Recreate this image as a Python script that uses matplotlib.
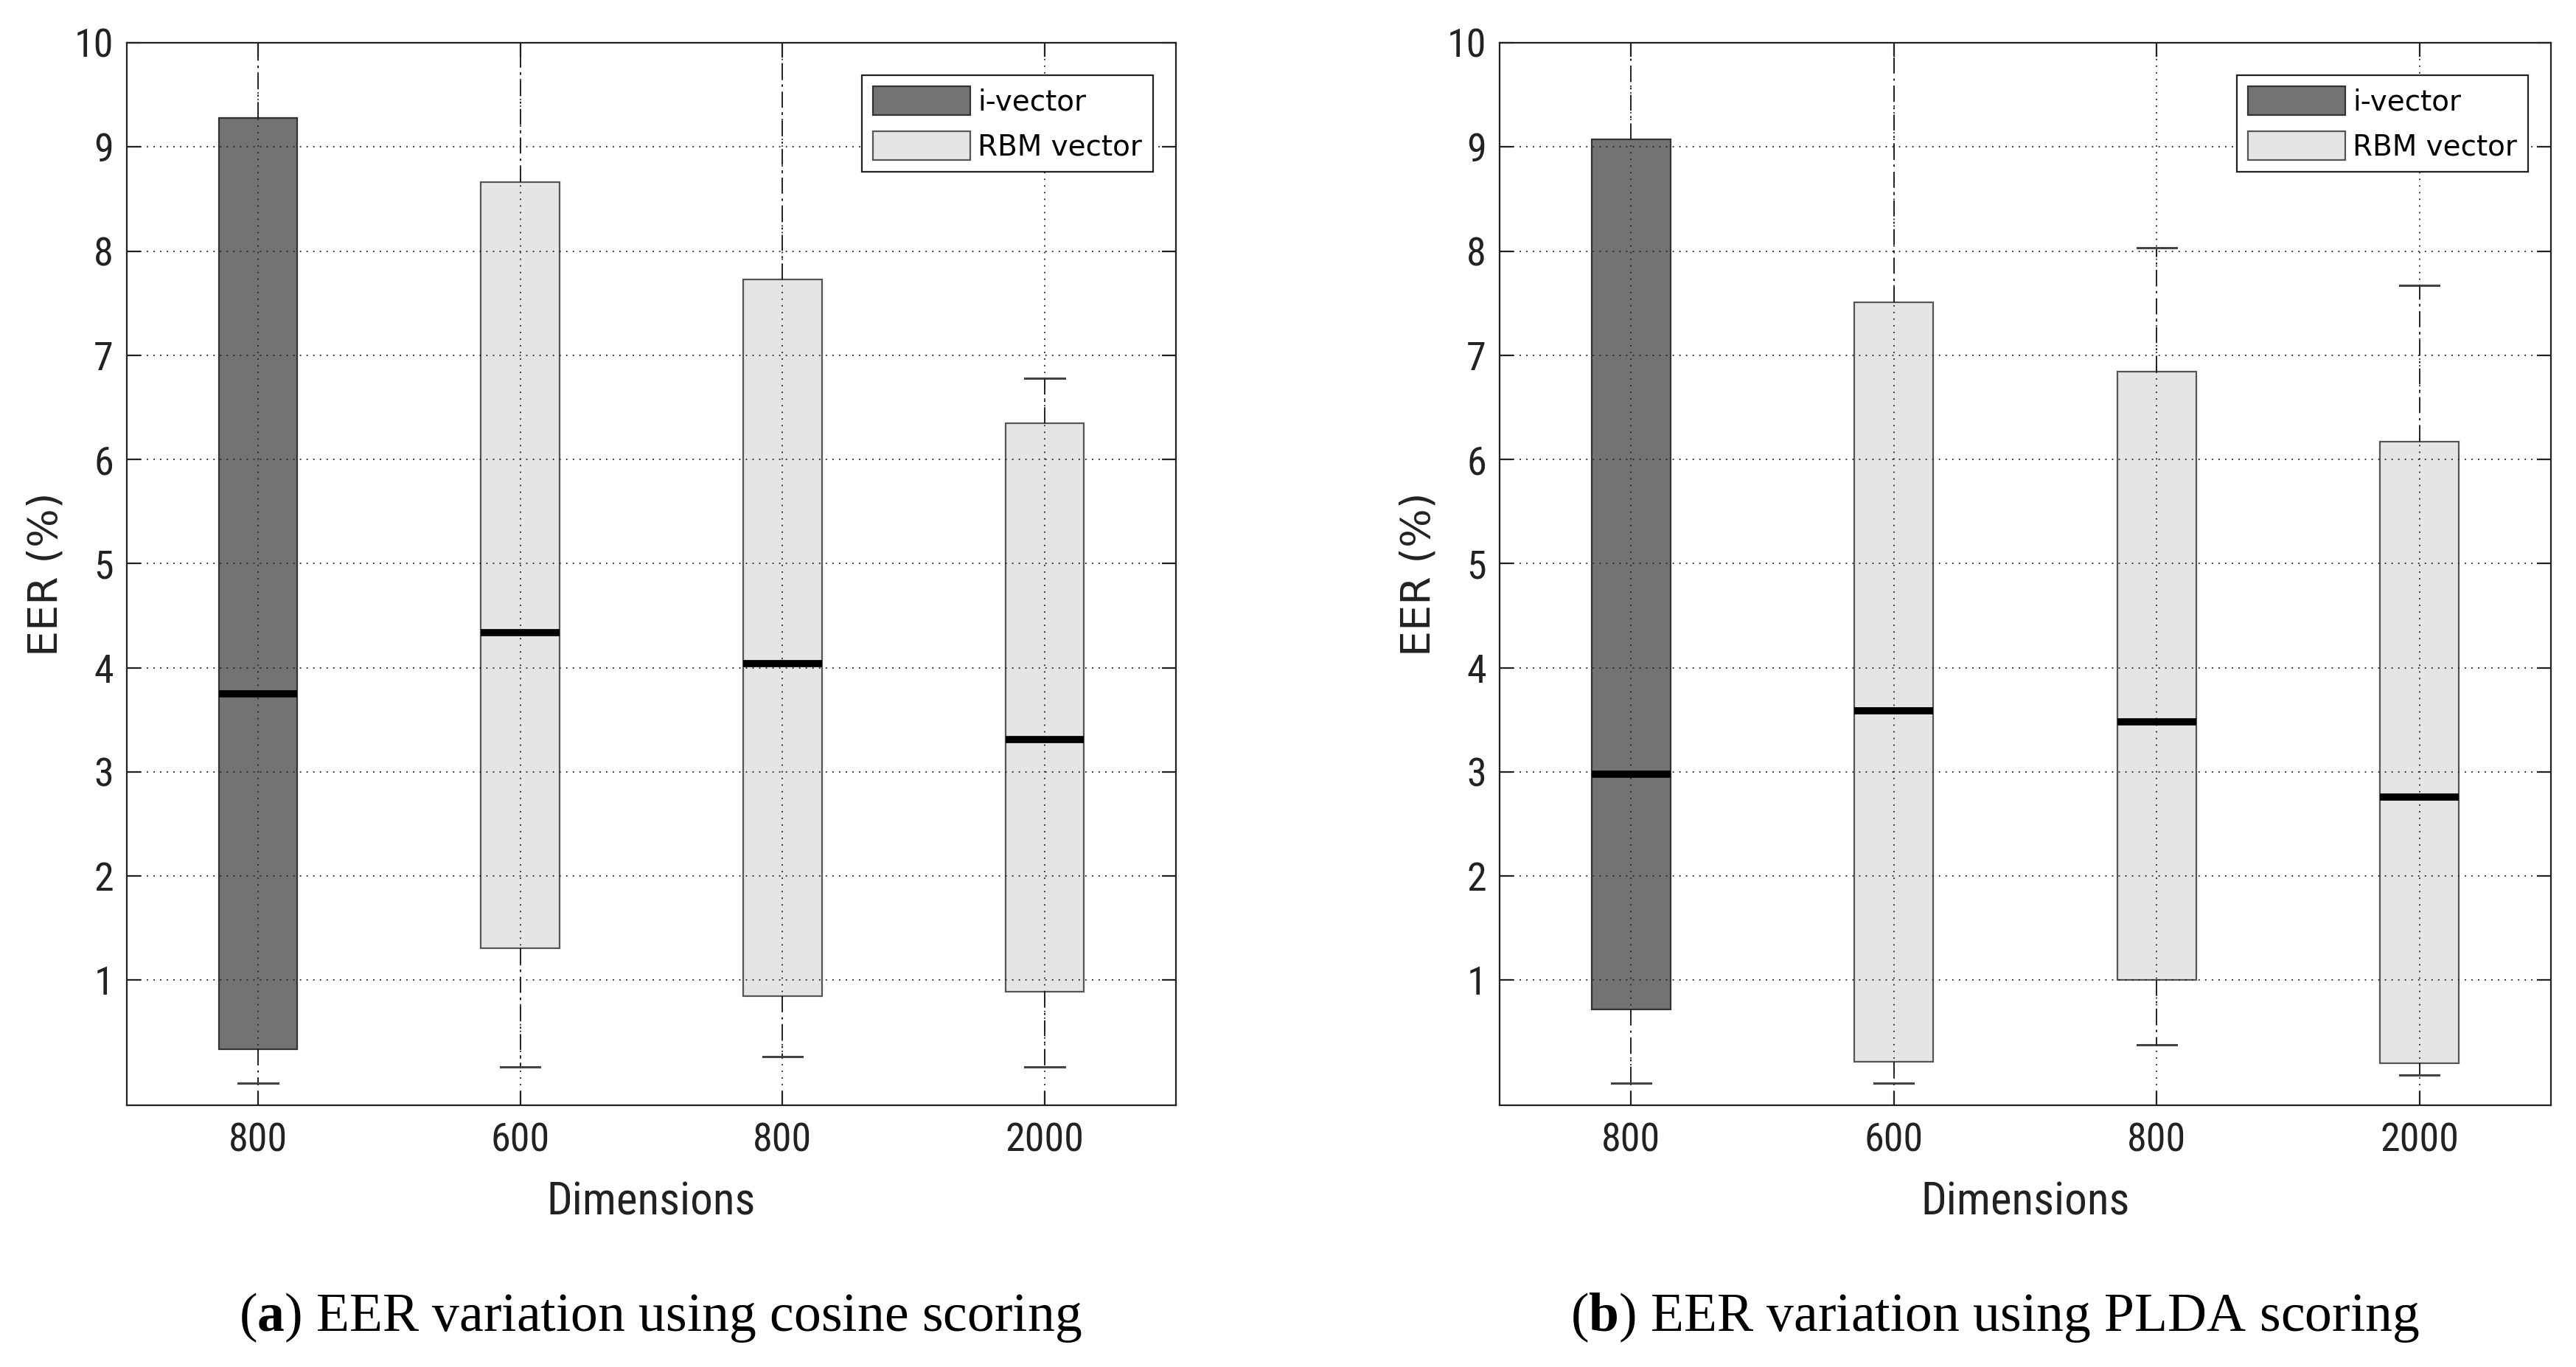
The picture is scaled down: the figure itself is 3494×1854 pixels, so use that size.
import matplotlib
matplotlib.use("Agg")
import matplotlib.pyplot as plt
from matplotlib.patches import Patch
from matplotlib import font_manager

plt.rcParams['mathtext.fontset'] = 'custom'
plt.rcParams['mathtext.rm'] = 'Liberation Serif'
plt.rcParams['mathtext.bf'] = 'Liberation Serif:bold'

# data (EER %, whiskers above 10 run off the axes)
dims = ['800', '600', '800', '2000']
kinds = ['i-vector', 'RBM vector', 'RBM vector', 'RBM vector']

cos_q1 = [0.34, 1.31, 0.85, 0.89]
cos_med = [3.75, 4.34, 4.04, 3.31]
cos_q3 = [9.28, 8.66, 7.73, 6.35]
cos_lo = [0.01, 0.17, 0.27, 0.17]
cos_hi = [11.0, 11.0, 11.0, 6.78]

plda_q1 = [0.72, 0.22, 1.00, 0.20]
plda_med = [2.98, 3.59, 3.48, 2.76]
plda_q3 = [9.07, 7.51, 6.84, 6.17]
plda_lo = [0.01, 0.01, 0.38, 0.09]
plda_hi = [11.0, 11.0, 8.03, 7.67]

yticks = [1, 2, 3, 4, 5, 6, 7, 8, 9, 10]
captions = [r'($\mathbf{a}$) EER variation using cosine scoring',
            r'($\mathbf{b}$) EER variation using PLDA scoring']

fill = {'i-vector': '#737373', 'RBM vector': '#e5e5e5'}
edge = {'i-vector': '#333333', 'RBM vector': '#555555'}

# pick a condensed sans if one is around
names = set(f.name for f in font_manager.fontManager.ttflist)
narrow = {'family': 'DejaVu Sans'}
for n in ['DejaVu Sans Condensed', 'Liberation Sans Narrow', 'Roboto Condensed']:
    if n in names:
        narrow = {'family': n}
        break

W, H = 3494, 1854
fig = plt.figure(figsize=(W / 100, H / 100), dpi=100)
ax1 = fig.add_axes([172 / W, 1 - 1499 / H, 1423 / W, 1441 / H])
ax2 = fig.add_axes([2034 / W, 1 - 1499 / H, 1426 / W, 1441 / H])


def draw(ax, q1, med, q3, lo, hi):
    stats = []
    for i in range(len(dims)):
        stats.append({'q1': q1[i], 'med': med[i], 'q3': q3[i],
                      'whislo': lo[i], 'whishi': hi[i], 'label': dims[i]})
    pos = list(range(1, len(dims) + 1))
    bp = ax.bxp(stats, positions=pos, widths=0.3, capwidths=0.15,
                patch_artist=True, showfliers=False,
                whiskerprops=dict(color='#111111', linewidth=1.3,
                                  linestyle=(0, (12, 4, 1.5, 4))),
                capprops=dict(color='#444444', linewidth=2.2),
                medianprops=dict(color='black', linewidth=7, zorder=4,
                                 solid_capstyle='butt'))
    for b, k in zip(bp['boxes'], kinds):
        b.set_facecolor(fill[k])
        b.set_edgecolor(edge[k])
        b.set_linewidth(1.6)
        b.set_zorder(2)

    ax.set_xlim(0.5, 4.5)
    ax.set_ylim(-0.2, 10)
    ax.set_yticks(yticks)
    ax.set_xticks(pos)
    ax.set_xticklabels(dims)
    ax.set_axisbelow(False)
    ax.grid(True, color='#222222', linestyle=(0, (1, 4)), linewidth=1.3)
    for s in ax.spines.values():
        s.set_linewidth(1.6)
        s.set_color('#222222')
    ax.tick_params(direction='in', length=13.5, width=1.6, color='#222222',
                   top=True, right=True, labelcolor='#222222')
    ax.tick_params(axis='x', pad=16)
    ax.tick_params(axis='y', pad=13)
    for t in ax.get_xticklabels() + ax.get_yticklabels():
        t.set_fontproperties(font_manager.FontProperties(size=39, **narrow))

    ax.set_ylabel('EER (%)', fontsize=40, family='DejaVu Sans', color='#222222')
    ax.yaxis.set_label_coords(-0.058, 0.5)
    ax.set_xlabel('Dimensions', color='#222222',
                  fontproperties=font_manager.FontProperties(size=44, **narrow))
    ax.xaxis.set_label_coords(0.5, -0.071)

    handles = [Patch(facecolor=fill[k], edgecolor=edge[k], linewidth=1.6, label=k)
               for k in ['i-vector', 'RBM vector']]
    leg = ax.legend(handles=handles, loc='upper right',
                    bbox_to_anchor=(0.978, 0.9695), borderaxespad=0,
                    prop={'family': 'DejaVu Sans', 'size': 28},
                    handlelength=3.4, handleheight=1.18, handletextpad=0.26,
                    labelspacing=0.52, borderpad=0.38, fancybox=False,
                    framealpha=1, edgecolor='#222222')
    leg.get_frame().set_linewidth(1.6)


draw(ax1, cos_q1, cos_med, cos_q3, cos_lo, cos_hi)
draw(ax2, plda_q1, plda_med, plda_q3, plda_lo, plda_hi)

fig.text(0.2565, 1 - 1805 / H, captions[0], fontsize=53,
         family='Liberation Serif', ha='center', va='baseline')
fig.text(0.7745, 1 - 1805 / H, captions[1], fontsize=53,
         family='Liberation Serif', ha='center', va='baseline')

fig.savefig('out.png', dpi=100, facecolor='white')
